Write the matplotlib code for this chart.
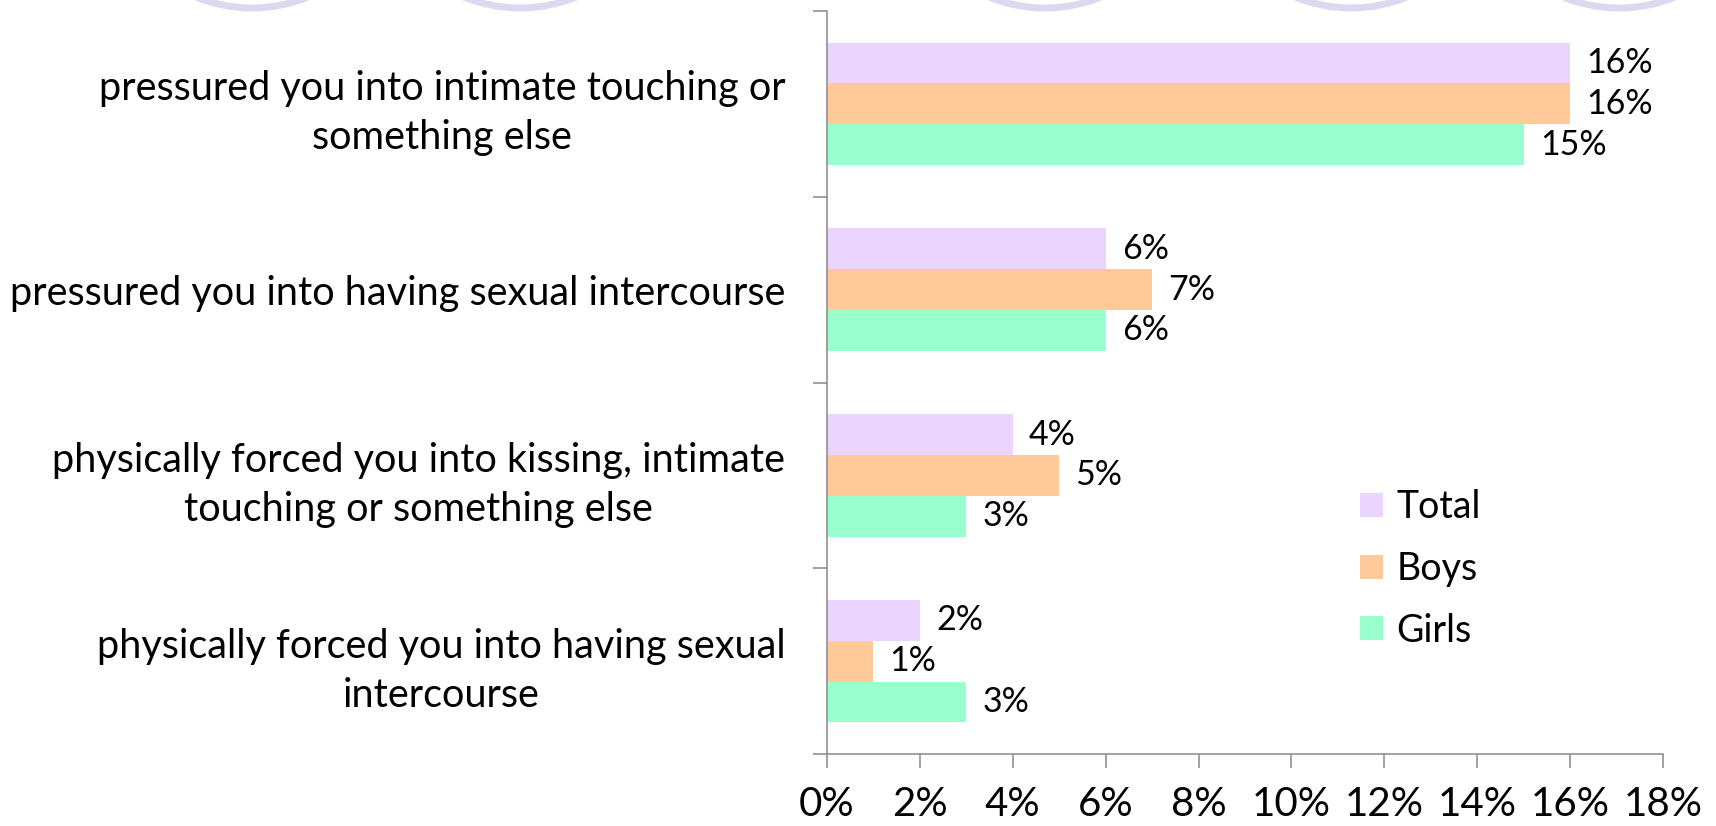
import numpy as np
import matplotlib
matplotlib.use('Agg')
import matplotlib.pyplot as plt
from matplotlib.patches import Circle

# data
categories = ['pressured you into intimate touching or\nsomething else',
              'pressured you into having sexual intercourse',
              'physically forced you into kissing, intimate\ntouching or something else',
              'physically forced you into having sexual\nintercourse']
series = ['Total', 'Boys', 'Girls']
total = [16, 6, 4, 2]
boys = [16, 7, 5, 1]
girls = [15, 6, 3, 3]
colors = ['#E9D5FD', '#FFC999', '#99FFCC']
xticks = list(range(0, 19, 2))

# decorative rings peeking in at the top edge (pixel coords)
rings_x = [252, 520, 1045, 1351, 1619]

plt.rcParams['font.family'] = ['Lato', 'DejaVu Sans']
fig = plt.figure(figsize=(17.16, 8.26), dpi=100)

# background decoration
deco = fig.add_axes([0, 0, 1, 1], zorder=-1)
deco.set_xlim(0, 1716)
deco.set_ylim(826, 0)
deco.axis('off')
for cx in rings_x:
	deco.add_patch(Circle((cx, -140), 148, fill=False, edgecolor='#DCD8F0', linewidth=5))

ax = fig.add_axes([827/1716, 1 - 754/826, (1663-827)/1716, (754-11)/826])
ax.patch.set_alpha(0)

y = np.arange(len(categories))
h = 0.22
for i, (name, vals) in enumerate(zip(series, [total, boys, girls])):
	bars = ax.barh(y + (i - 1)*h, vals, height=h, color=colors[i], label=name)
	for b, v in zip(bars, vals):
		ax.text(b.get_width() + 0.35, b.get_y() + b.get_height()/2, f'{v}%',
		        va='center', ha='left', fontsize=24.5)

ax.set_xlim(0, 18)
ax.set_ylim(len(categories) - 0.5, -0.5)

ax.set_xticks(xticks)
ax.set_xticklabels([f'{t}%' for t in xticks], fontsize=29)
ax.tick_params(axis='x', direction='out', length=10, width=1.1, color='#888888', pad=13)

ax.set_yticks(y)
ax.set_yticklabels(categories, fontsize=28.5)
for lbl in ax.get_yticklabels():
	lbl.set_multialignment('center')
	lbl.set_linespacing(1.4)
ax.set_yticks(np.arange(len(categories) + 1) - 0.5, minor=True)
ax.tick_params(axis='y', which='major', length=0, pad=30)
ax.tick_params(axis='y', which='minor', direction='out', length=10, width=1.1, color='#888888')

for s in ['top', 'right']:
	ax.spines[s].set_visible(False)
for s in ['left', 'bottom']:
	ax.spines[s].set_color('#888888')
	ax.spines[s].set_linewidth(1.1)

leg = ax.legend(loc='center left', bbox_to_anchor=(1341/1716, 1 - 569/826),
                bbox_transform=fig.transFigure, frameon=False, fontsize=27,
                handlelength=0.62, handleheight=0.62, handletextpad=0.35,
                labelspacing=0.68, borderpad=0)

fig.savefig('out.png', dpi=100)
